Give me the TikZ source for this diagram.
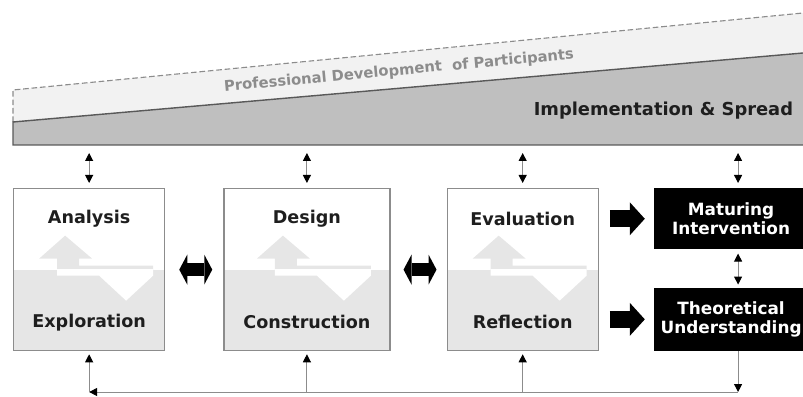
\documentclass[tikz,border=0pt]{standalone}
\usepackage{fontspec}
\setmainfont{DejaVu Sans}
\usetikzlibrary{positioning,arrows.meta}

\definecolor{bandlight}{HTML}{F2F2F2}
\definecolor{banddark}{HTML}{BFBFBF}
\definecolor{lowgray}{HTML}{E6E6E6}
\definecolor{linegray}{HTML}{8C8C8C}
\definecolor{textdark}{HTML}{1E1E1E}

% up/down arrow inside the phase boxes
\newcommand{\updownshape}[1]{\fill[#1] (-0.6,0.85) -- (0.075,0.275) -- (-0.25,0.275) -- (-0.25,0.1)
    -- (1.6,0.1) -- (1.6,-0.15) -- (0.925,-0.775) -- (0.25,-0.15) -- (-0.8,-0.15)
    -- (-0.8,0.275) -- (-1.25,0.275) -- cycle;}

\begin{document}
\begin{tikzpicture}[
        % define styles
        phase/.style={
             draw=linegray,
             line width=0.9pt,
             minimum width=3.775cm,
             minimum height=4.05cm,
             inner sep=0pt,
             anchor=north west,
             path picture={
                \fill[lowgray] (path picture bounding box.west) rectangle (path picture bounding box.south east);
                \begin{scope}[shift={(path picture bounding box.center)},#1]
                    \clip (-3,0) rectangle (3,3);
                    \updownshape{lowgray}
                \end{scope}
                \begin{scope}[shift={(path picture bounding box.center)},#1]
                    \clip (-3,0) rectangle (3,-3);
                    \updownshape{white}
                \end{scope}
             }
        },
        phase/.default={xshift=0cm},
        outcome/.style={
             fill=black,
             text=white,
             align=center,
             minimum width=3.85cm,
             inner sep=0pt,
             font=\bfseries\fontsize{12}{14}\selectfont
        },
        lbl/.style={
             text=textdark,
             font=\bfseries\fontsize{12.5}{14}\selectfont
        },
        small/.style={
             draw=linegray,
             line width=0.7pt,
             {Triangle[length=0.2cm,width=0.2cm,color=black]}-{Triangle[length=0.2cm,width=0.2cm,color=black]}
        },
        up/.style={
             draw=linegray,
             line width=0.7pt,
             -{Triangle[length=0.2cm,width=0.2cm,color=black]}
        },
        bigdbl/.style={
             draw=black,
             line width=0.325cm,
             {Triangle[length=0.2cm,width=0.75cm,line width=0pt]}-{Triangle[length=0.2cm,width=0.75cm,line width=0pt]}
        },
        big/.style={
             draw=black,
             line width=0.425cm,
             -{Triangle[length=0.375cm,width=0.825cm,line width=0pt]}
        }
    ]
    \useasboundingbox (0,0) rectangle (20.075,9.9);

    % top band
    \fill[bandlight] (0.325,6.85) -- (0.325,7.65) -- (20.075,9.575) -- (20.075,8.575) -- cycle;
    \draw[linegray, line width=0.8pt, dash pattern=on 4pt off 2pt] (0.325,6.85) -- (0.325,7.65) -- (20.075,9.575);
    \fill[banddark] (0.325,6.275) -- (0.325,6.85) -- (20.075,8.575) -- (20.075,6.275) -- cycle;
    \draw[black!65, line width=1pt] (20.075,6.275) -- (0.325,6.275) -- (0.325,6.85) -- (20.075,8.575);
    \node[rotate=5.3, text=black!45, font=\bfseries\fontsize{10.5}{12}\selectfont] (prof) at (9.975,8.125) {Professional Development\ \ of Participants};
    \node[lbl, anchor=east, font=\bfseries\fontsize{12.7}{14}\selectfont] (impl) at (19.95,7.125) {Implementation \& Spread};
    \coordinate (band) at (0,6.275);
    \coordinate (bot) at (0,0.1);

    % phase boxes
    \node[phase={xshift=-0.23cm,xscale=0.885}] at (0.325,5.2) (ana) {};
    \node[phase, minimum width=4.15cm, right=1.45cm of ana] (des) {};
    \node[phase, right=1.4cm of des] (eva) {};
    \node[lbl] at ([yshift=-0.775cm]ana.north) (anaT) {Analysis};
    \node[lbl] at ([yshift=0.725cm]ana.south) (anaB) {Exploration};
    \node[lbl] at ([yshift=-0.775cm]des.north) (desT) {Design};
    \node[lbl] at ([yshift=0.725cm]des.south) (desB) {Construction};
    \node[lbl] at ([yshift=-0.775cm]eva.north) (evaT) {Evaluation};
    \node[lbl] at ([yshift=0.725cm]eva.south) (evaB) {Reflection};

    % outputs
    \node[outcome, minimum height=1.525cm, right=1.375cm of eva.north east, anchor=north west] (mat) {Maturing\\Intervention};
    \node[outcome, minimum height=1.575cm, below=0.95cm of mat] (theo) {Theoretical\\Understanding};
    \coordinate (matN) at ([xshift=0.175cm]mat.north);
    \coordinate (matS) at ([xshift=0.175cm]mat.south);
    \coordinate (theoN) at ([xshift=0.175cm]theo.north);
    \coordinate (theoS) at ([xshift=0.175cm]theo.south);

    \path (ana.north |- band) edge[small, shorten <=0.2cm, shorten >=0.125cm] (ana.north)
    (des.north |- band) edge[small, shorten <=0.2cm, shorten >=0.125cm] (des.north)
    (eva.north |- band) edge[small, shorten <=0.2cm, shorten >=0.125cm] (eva.north)
    (matN |- band) edge[small, shorten <=0.2cm, shorten >=0.125cm] (matN)
    (matS) edge[small, shorten <=0.1cm, shorten >=0.075cm] (theoN)

    (ana.east) edge[bigdbl, shorten <=0.35cm, shorten >=0.275cm] (des.west)
    (des.east) edge[bigdbl, shorten <=0.325cm, shorten >=0.25cm] (eva.west)
    (eva.east |- mat) edge[big, shorten <=0.275cm, shorten >=0.225cm] (mat.west)
    (eva.east |- theo) edge[big, shorten <=0.275cm, shorten >=0.225cm] (theo.west)

    (theoS) edge[up] (theoS |- bot)
    (theoS |- bot) edge[up] (ana.south |- bot)
    (ana.south |- bot) edge[up, shorten >=0.075cm] (ana.south)
    (des.south |- bot) edge[up, shorten >=0.075cm] (des.south)
    (eva.south |- bot) edge[up, shorten >=0.075cm] (eva.south)
    ;
\end{tikzpicture}
\end{document}
